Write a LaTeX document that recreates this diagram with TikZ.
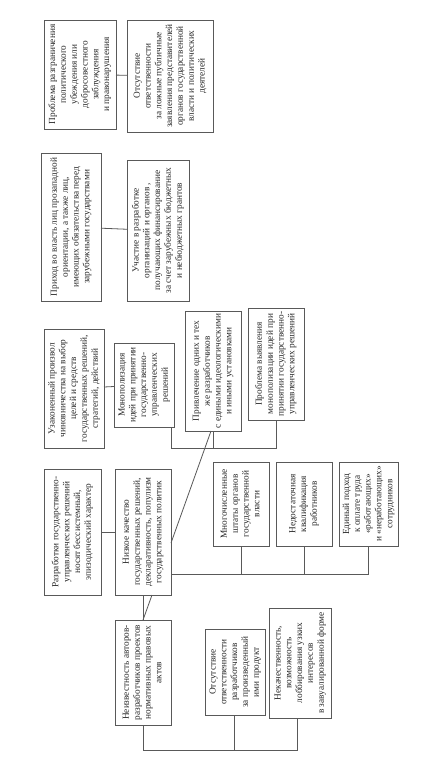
\documentclass[tikz,border=0pt]{standalone}
\usepackage{fontspec}
\setmainfont{Liberation Serif}
\usepackage{graphicx}
\newcommand{\rtxt}[1]{\rotatebox{90}{\begin{tabular}{@{}c@{}}#1\end{tabular}}}
\begin{document}
\begin{tikzpicture}[x=1pt,y=-1pt,
  box/.style={draw=black!65, line width=0.8pt, inner sep=0pt, outer sep=0pt,
    font=\fontsize{9.3}{10.8}\selectfont, text=black!85},
  link/.style={draw=black!65, line width=0.8pt}]
\useasboundingbox (0,0) rectangle (421,775);
\fill[white] (0,0) rectangle (421,775);

% row 1
\node[box, minimum width=72pt, minimum height=109pt] (A) at (80,74.5)
  {\rtxt{Проблема разграничения\\политического\\убеждения или\\добросовестного\\заблуждения\\и правонарушения}};
\node[box, minimum width=86pt, minimum height=112pt] (B) at (170,76)
  {\rtxt{Отсутствие\\ответственности\\за ложные публичные\\заявления представителей\\органов государственной\\власти и политических\\деятелей}};

% row 2
\node[box, minimum width=60pt, minimum height=148pt] (C) at (71,227)
  {\rtxt{Приход во власть лиц прозападной\\ориентации, а также лиц,\\имеющих обязательства перед\\зарубежными государствами}};
\node[box, minimum width=62pt, minimum height=141pt] (D) at (158,230.5)
  {\rtxt{Участие в разработке\\организаций и органов ,\\получающих финансирование\\за счет зарубежных бюджетных\\и небюджетных грантов}};

% row 3
\node[box, minimum width=60pt, minimum height=119pt] (E) at (74,388.5)
  {\rtxt{Узаконенный произвол\\чиновничества на выбор\\целей и средств\\государственных решений,\\стратегий, действий}};
\node[box, minimum width=60pt, minimum height=84pt] (F) at (144,385)
  {\rtxt{Монополизация\\идей при принятии\\государственно-\\управленческих\\решений}};
\node[box, minimum width=56pt, minimum height=120pt] (G) at (213,371)
  {\rtxt{Привлечение одних и тех\\же разработчиков\\с едиными идеологическими\\и иными установками}};
\node[box, minimum width=56pt, minimum height=112pt] (H) at (276,364)
  {\rtxt{Проблема выявления\\монополизации идей при\\принятии государственно-\\управленческих решений}};

% row 4
\node[box, minimum width=57pt, minimum height=126pt] (I) at (72.5,532)
  {\rtxt{Разработки государственно-\\управленческих решений\\носят бессистемный,\\эпизодический характер}};
\node[box, minimum width=56pt, minimum height=126pt] (J) at (143,532)
  {\rtxt{Низкое качество\\государственных решений,\\декларативность, популизм\\государственных политик}};
\node[box, minimum width=56pt, minimum height=84pt] (K) at (241,504)
  {\rtxt{Многочисленные\\штаты органов\\государственной\\власти}};
\node[box, minimum width=56pt, minimum height=84pt] (L) at (304,504)
  {\rtxt{Недостаточная\\квалификация\\работников}};
\node[box, minimum width=59pt, minimum height=84pt] (M) at (368.5,504)
  {\rtxt{Единый подход\\к оплате труда\\«работающих»\\и «неработающих»\\сотрудников}};

% row 5
\node[box, minimum width=56pt, minimum height=105pt] (N) at (143,672.5)
  {\rtxt{Неизвестность авторов-\\разработчиков проектов\\нормативных правовых\\актов}};
\node[box, minimum width=60pt, minimum height=86pt] (O) at (235,672)
  {\rtxt{Отсутствие\\ответственности\\разработчиков\\за произведенный\\ими продукт}};
\node[box, minimum width=62pt, minimum height=110pt] (P) at (300,663)
  {\rtxt{Некачественность,\\возможность\\лоббирования узких\\интересов\\в завуалированной форме}};

% bar levels
\coordinate (barFGH) at (0,448);
\coordinate (barJ) at (0,574);
\coordinate (barN) at (0,750);

% connectors
\draw[link] (A) -- (B);
\draw[link] (C) -- (D);
\draw[link] (E) -- (F);
\draw[link] (I) -- (J);

\draw[link] ([xshift=-3pt]F.south east) -- ([xshift=-3pt]F.south east |- barFGH)
  -- (H.south |- barFGH) -- (H.south);
\draw[link] (G.south) -- (G.south |- barFGH);
\draw[link] ([xshift=-2pt]G.south) -- ([yshift=-11pt]J.east);

\draw[link] (J.east |- barJ) -- (M.south |- barJ) -- (M.south);
\draw[link] (K.south) -- (K.south |- barJ);
\draw[link] (L.south) -- (L.south |- barJ);

\draw[link] (J.south) -- (N.north);
\draw[link] ([xshift=9pt]J.south) -- (N.north);

\draw[link] (N.south) -- (N.south |- barN) -- ([xshift=-3pt]P.south |- barN) -- ([xshift=-3pt]P.south);
\draw[link] ([xshift=-1pt]O.south) -- ([xshift=-1pt]O.south |- barN);
\end{tikzpicture}
\end{document}
